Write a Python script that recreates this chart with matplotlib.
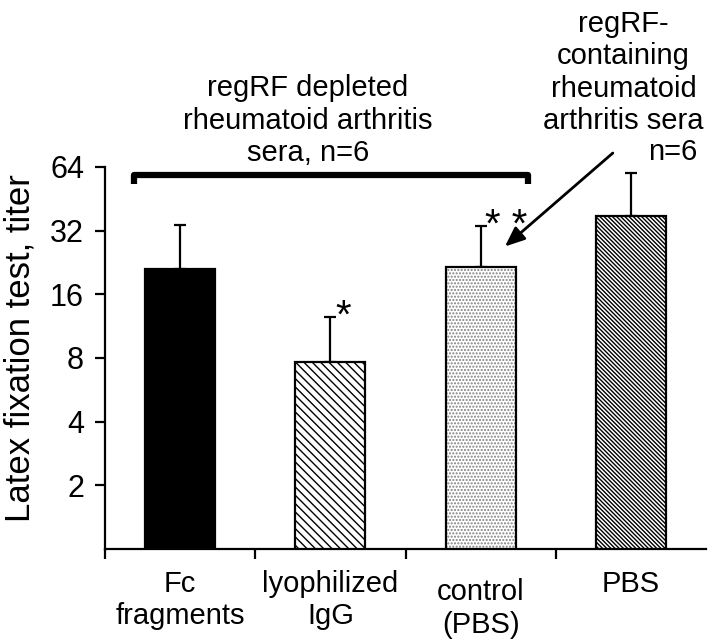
import numpy as np
from matplotlib import pyplot as plt

plt.rcParams['font.family'] = ['Liberation Sans', 'DejaVu Sans']
plt.rcParams['hatch.linewidth'] = 1.0

categories = ['Fc\nfragments', 'lyophilized\nIgG', 'control\n(PBS)', 'PBS']
titer = [21.1, 7.66, 21.5, 37.5]
err_top = [34.0, 12.5, 33.6, 59.7]
hatches = ['', '\\\\\\\\', '.....', '\\\\\\\\\\\\\\\\']
faces = ['black', 'white', 'white', 'white']
hatch_cols = ['black', 'black', '#808080', 'black']
stars = ['', '*', '* *', '']
label_drop = [0, 0, 0.022, 0]

fig = plt.figure(figsize=(7.09, 6.44), dpi=100)
ax = fig.add_axes([0.148, 0.1475, 0.848, 0.5932])

x = np.arange(len(titer))
upper = np.array(err_top) - np.array(titer)
lower = np.zeros(len(titer))
for i in range(len(titer)):
    # hatch layer, then black outline on top
    ax.bar(x[i], titer[i], width=0.467, color=faces[i], edgecolor=hatch_cols[i],
           linewidth=0, hatch=hatches[i], zorder=2)
    ax.bar(x[i], titer[i], width=0.467, fill=False, edgecolor='black',
           linewidth=1.6, zorder=3)
ax.errorbar(x, titer, yerr=[lower, upper], fmt='none', ecolor='black',
            elinewidth=1.6, capsize=4.3, capthick=1.6, zorder=1)

for i in range(len(titer)):
    if stars[i]:
        ax.text(x[i] + 0.03, err_top[i] * 1.0, stars[i], fontsize=29,
                ha='left', va='center')
    ax.text(x[i], -0.055 - label_drop[i], categories[i], fontsize=21,
            ha='center', va='top', transform=ax.get_xaxis_transform())

ax.set_yscale('log', base=2)
ax.set_ylim(1, 64)
ax.set_yticks([2, 4, 8, 16, 32, 64])
ax.set_yticklabels(['2', '4', '8', '16', '32', '64'])
ax.minorticks_off()
ax.set_xlim(-0.5, 3.5)
ax.set_xticks([-0.5, 0.5, 1.5, 2.5])
ax.set_xticklabels([])
ax.tick_params(axis='x', length=7, width=1.6, direction='out')
ax.tick_params(axis='y', length=7, width=1.6, labelsize=22, pad=8)
fig.text(0.028, 0.46, 'Latex fixation test, titer', fontsize=25,
         rotation=90, ha='center', va='center')
for s in ['top', 'right']:
    ax.spines[s].set_visible(False)
for s in ['left', 'bottom']:
    ax.spines[s].set_linewidth(1.6)

# bracket over the depleted sera
bx0, bx1, by = -0.307, 2.313, 58.5
ax.plot([bx0, bx0, bx1, bx1], [by * 0.905, by, by, by * 0.905], color='black',
        lw=4.5, solid_capstyle='butt', clip_on=False)
ax.text(0.85, 68.2, 'regRF depleted\nrheumatoid arthritis\nsera, n=6',
        fontsize=21, ha='center', va='baseline')
ax.text(2.95, 96.5, 'regRF-\ncontaining\nrheumatoid\narthritis sera',
        fontsize=21, ha='center', va='baseline')
ax.text(3.28, 68.8, 'n=6', fontsize=21, ha='center', va='baseline')
ax.annotate('', xy=(2.147, 26.4), xytext=(2.893, 76),
            arrowprops=dict(arrowstyle='-|>,head_length=1.2,head_width=0.5',
                            color='black', lw=2), annotation_clip=False)

plt.savefig('out.png')
